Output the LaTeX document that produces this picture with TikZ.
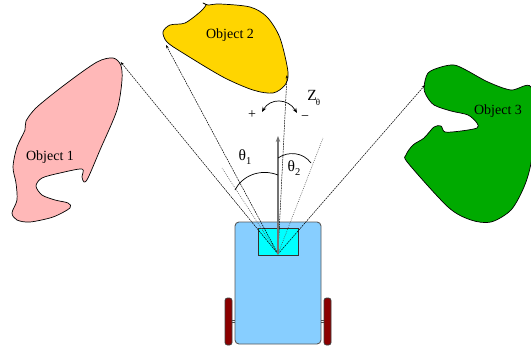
\documentclass[tikz,border=0pt]{standalone}
\usepackage{fontspec}
\setmainfont{Liberation Serif}
\usetikzlibrary{arrows.meta}
\definecolor{pinkobj}{RGB}{255,184,184}
\definecolor{yellowobj}{RGB}{255,213,0}
\definecolor{greenobj}{RGB}{0,170,0}
\definecolor{bodyblue}{RGB}{135,206,255}
\definecolor{wheelred}{RGB}{139,0,0}
\definecolor{camcyan}{RGB}{0,255,255}
\tikzset{
  blob/.style={draw=black,line width=0.7pt,line join=round},
  ray/.style={draw=black,line width=0.5pt,dash pattern=on 1.8pt off 0.8pt},
  dotray/.style={draw=black!70,line width=0.55pt,dash pattern=on 0.8pt off 1.2pt},
  lab/.style={font=\fontsize{14}{16}\selectfont,inner sep=0pt},
  sym/.style={font=\fontsize{15.5}{17}\selectfont,inner sep=0pt},
  angarc/.style={draw=black,line width=0.7pt},
  wheel/.style={draw=black!75,fill=wheelred,line width=0.8pt,rounded corners=2.5pt},
}
\begin{document}
\begin{tikzpicture}[x=1pt,y=-1pt]
\useasboundingbox (0,0) rectangle (531,349);
% objects
\draw[blob,fill=pinkobj] plot[smooth cycle,tension=0.5] coordinates {(120.7,65)(122,80)(117,110)(100,150)(88,178)(84,182)(82,177)(82,169)(60,173)(42,178)(36,186)(42,195)(55,200)(68,203)(70,208)(53,217)(30,222)(17,220)(12,213)(17,200)(16,183)(13,167)(17,147)(25,130)(26,121)(37,107)(67,83)(97,62)(113,58)};
\draw[blob,fill=yellowobj] plot[smooth cycle,tension=0.5] coordinates {(203,3)(208,5)(220,4)(250,7)(267,17)(280,38)(288,72)(285,85)(273,93)(253,90)(223,77)(183,53)(167,42)(163,32)(170,25)(185,23)(200,12)(206,5)};
\draw[blob,fill=greenobj] plot[smooth cycle,tension=0.5] coordinates {(424,87)(428,73)(441,67)(454,65)(466,70)(488,82)(511,90)(531,87)(533,130)(531,163)(524,187)(511,210)(491,222)(471,220)(448,207)(408,163)(406,155)(413,145)(424,138)(434,127)(441,126)(445,132)(461,131)(477,128)(477,123)(468,115)(451,111)(434,105)(426,95)};
\node[lab] (o1) at (50,157) {Object 1};
\node[lab] (o2) at (230,35) {Object 2};
\node[lab] (o3) at (498,111) {Object 3};
% robot
\node[wheel,minimum width=7pt,minimum height=47pt,inner sep=0pt] (wl) at (228.5,321.5) {};
\node[wheel,minimum width=7pt,minimum height=47pt,inner sep=0pt] (wr) at (327.5,321.5) {};
\node[draw=black!65,fill=bodyblue,line width=0.9pt,rounded corners=4pt,minimum width=86pt,minimum height=122pt,inner sep=0pt] (body) at (278,283) {};
\draw[black!70,line width=0.4pt] ([yshift=-1pt]wl.east) -- ([yshift=-1pt]wl.east -| body.west);
\draw[black!70,line width=0.4pt] ([yshift=1pt]wl.east) -- ([yshift=1pt]wl.east -| body.west);
\draw[black!70,line width=0.4pt] ([yshift=-1pt]wr.west) -- ([yshift=-1pt]wr.west -| body.east);
\draw[black!70,line width=0.4pt] ([yshift=1pt]wr.west) -- ([yshift=1pt]wr.west -| body.east);
\node[draw=black!80,fill=camcyan,line width=0.7pt,minimum width=40pt,minimum height=27pt,inner sep=0pt] (camera) at (278,241.5) {};
% rays
\coordinate (cam) at (278,254);
\coordinate (t1) at (120.7,62);
\coordinate (t2) at (166,45);
\coordinate (t3) at (287,75);
\coordinate (t4) at (425,85);
\coordinate (d1) at (222,168);
\coordinate (d2) at (323,138);
\coordinate (ztip) at (278,136);
\draw[ray,-{Stealth[length=3.5pt,width=2.5pt]}] (cam) -- (t1);
\draw[ray,-{Stealth[length=3.5pt,width=2.5pt]}] (cam) -- (t2);
\draw[ray,-{Stealth[length=3.5pt,width=2.5pt]}] (cam) -- (t3);
\draw[ray,-{Stealth[length=3.5pt,width=2.5pt]}] (cam) -- (t4);
\draw[dotray] (cam) -- (d1);
\draw[dotray] (cam) -- (d2);
\draw[draw=black!55,line width=1.3pt,-{Stealth[length=6pt,width=4.5pt]}] (cam) -- (ztip);
% angle arcs
\coordinate (a1s) at (235,190);
\coordinate (a1e) at (278,175);
\coordinate (a2s) at (278,158);
\coordinate (a2e) at (311,163);
\draw[angarc] (a1s) .. controls (242,176) and (260,168) .. (a1e);
\draw[angarc] (a2s) .. controls (288,151) and (303,152) .. (a2e);
\coordinate (zl) at (262,112);
\coordinate (zr) at (297,113);
\draw[angarc,{Stealth[length=5pt,width=4pt]}-{Stealth[length=5pt,width=4pt]}] (zl) .. controls (270,98) and (288,98) .. (zr);
% labels
\node[sym] (th1) at (245,157) {θ\kern0pt\raisebox{-3.5pt}{\fontsize{10.5}{11}\selectfont 1}};
\node[sym] (th2) at (294,168) {θ\kern0pt\raisebox{-3.5pt}{\fontsize{10.5}{11}\selectfont 2}};
\node[lab] (plus) at (252,115) {+};
\node[lab] (minus) at (305,118) {−};
\node[sym] (zz) at (312,95) {Z};
\node[inner sep=0pt,font=\fontsize{9}{10}\selectfont] (zth) at (318,102) {θ};
\end{tikzpicture}
\end{document}
